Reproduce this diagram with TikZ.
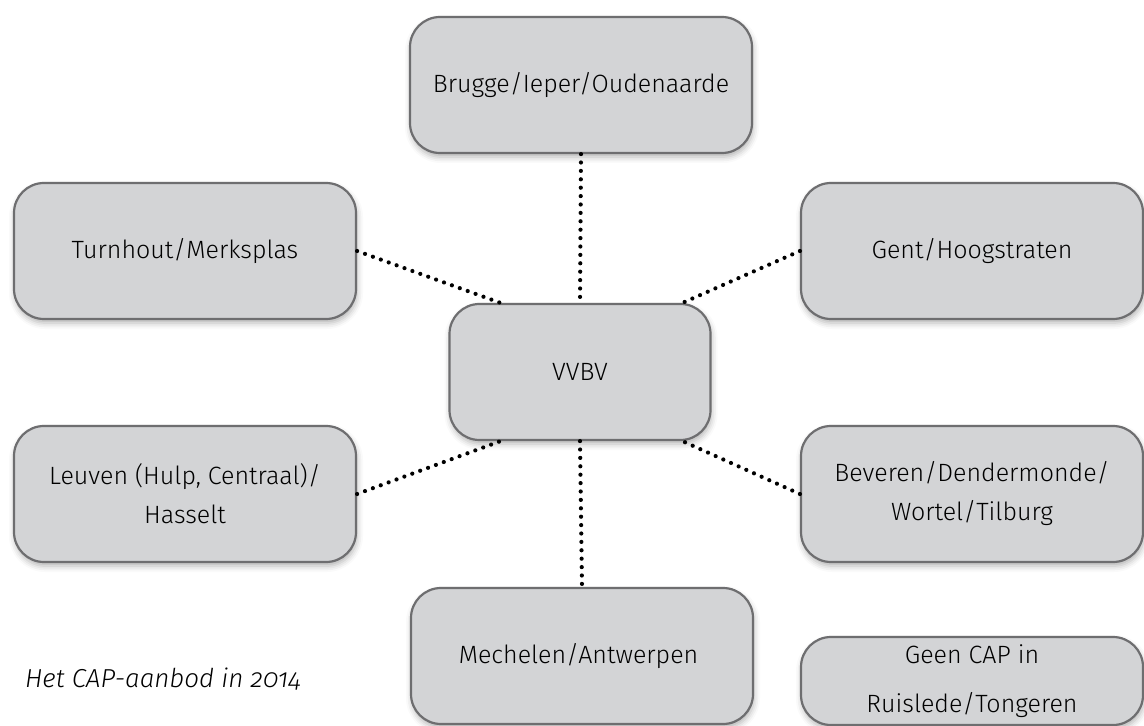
\documentclass[tikz,border=0pt]{standalone}
\usepackage{fontspec}
\setmainfont{Fira Sans Light}[ItalicFont={Fira Sans Light Italic}]
\newfontfamily\capfont{Fira Sans Light}[Numbers=OldStyle,
  ItalicFont={Fira Sans Light Italic}]
\usepackage{tikz}
\usetikzlibrary{
  positioning,
  shadows.blur
}
\definecolor{BoxGray}{HTML}{D3D4D6}
\definecolor{BoxEdge}{HTML}{6E6E70}

\begin{document}
\begin{tikzpicture}[
    x=0.5pt, y=-0.5pt,
    every node/.style={font=\fontsize{12.5}{19.5}\selectfont},
    site/.style={draw=BoxEdge, line width=1.1pt, fill=BoxGray,
      rounded corners=15pt, minimum width=171pt, minimum height=68pt,
      align=center, inner sep=0pt,
      blur shadow={shadow xshift=0.5pt, shadow yshift=-2pt,
        shadow blur radius=3pt, shadow opacity=30}},
    link/.style={line width=2.1pt, line cap=round,
      dash pattern=on 0pt off 4.2pt}
  ]
    \useasboundingbox (0,0) rectangle (1144,726);
    % hub in the middle
    \node[site, minimum width=130.5pt] (vvbv) at (580,372) {VVBV};
    % prisons round it
    \foreach \name/\x/\y/\txt in {
      brugge/581/85/{Brugge/Ieper/Oudenaarde},
      turnhout/185/251/{Turnhout/Merksplas},
      gent/972/251/{Gent/Hoogstraten},
      leuven/185/494/{Leuven (Hulp, Centraal)/\\Hasselt},
      beveren/972/494/{Beveren/Dendermonde/\\Wortel/Tilburg},
      mechelen/582/656/{Mechelen/Antwerpen}
    }{
      \node[site] (\name) at (\x,\y) {\txt};
    }
    \node[site, minimum height=44pt] (geen) at (972,681)
      {Geen CAP in\\[5pt]Ruislede/Tongeren};
    % dotted links
    \draw[link] (brugge.south) -- (vvbv.north);
    \draw[link] (turnhout.east) -- (vvbv.139);
    \draw[link] (gent.west) -- (vvbv.34);
    \draw[link] (leuven.east) -- (vvbv.221);
    \draw[link] (beveren.west) -- (vvbv.-34);
    \draw[link] (vvbv.south) -- (mechelen.north);
    % caption
    \node[anchor=base west, font=\capfont\itshape\fontsize{13}{16}\selectfont]
      (caption) at (18,687) {Het CAP-aanbod in 2014};
  \end{tikzpicture}
\end{document}
